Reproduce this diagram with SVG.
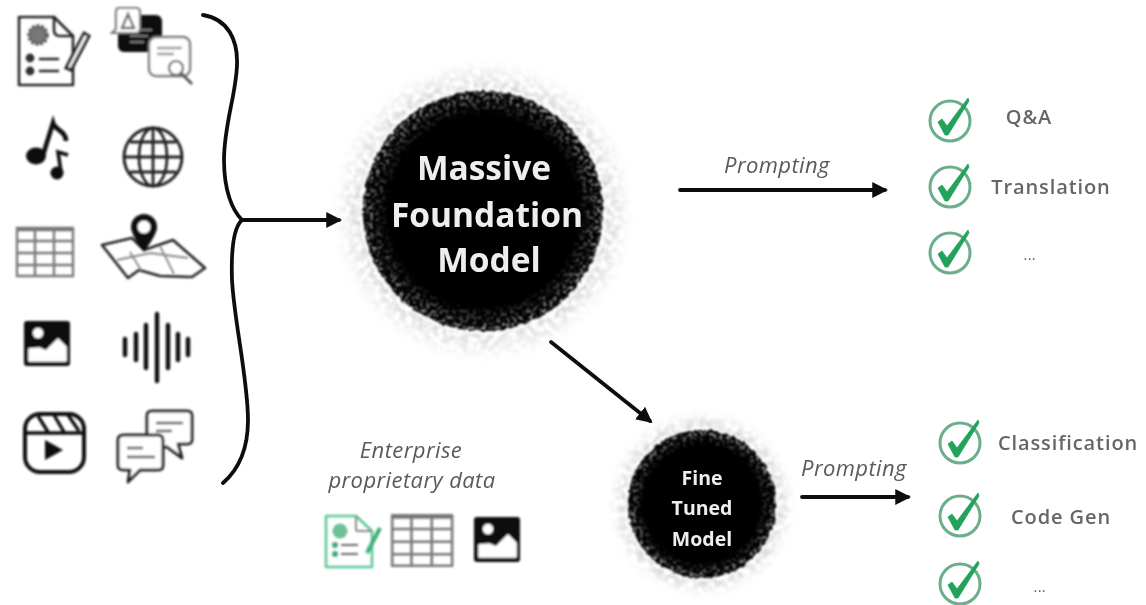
<svg xmlns="http://www.w3.org/2000/svg" width="1146" height="605" viewBox="0 0 1146 605">
<style>
text{font-family:"Open Sans","Liberation Sans",sans-serif}
.lab{fill:#666;font-size:20px;letter-spacing:.9px;text-anchor:middle;font-weight:600}
.w{fill:#eee;font-weight:700;text-anchor:middle}
.pr{fill:#5a5a5a;font-size:22px;letter-spacing:.4px;font-style:italic;text-anchor:middle}
.thin{fill:none;stroke:#222;stroke-width:2.6;stroke-linejoin:round;stroke-linecap:round}
.grid{fill:none;stroke:#777;stroke-width:2.4}
.conn{fill:none;stroke:#111;stroke-width:3.8;stroke-linecap:round}
</style>
<defs>
<filter id="b" x="-10%" y="-10%" width="120%" height="120%"><feGaussianBlur stdDeviation="0.8"/></filter>
<filter id="bt" x="-10%" y="-30%" width="120%" height="160%"><feGaussianBlur stdDeviation="0.7"/></filter>
<filter id="mottle" x="-5%" y="-5%" width="110%" height="110%">
<feTurbulence type="fractalNoise" baseFrequency="0.16" numOctaves="3" seed="7" result="n"/>
<feColorMatrix in="n" type="matrix" values="0 0 0 0 0 0 0 0 0 0 0 0 0 0 0 3.2 0 0 0 -1.1" result="m"/>
<feComposite in="SourceGraphic" in2="m" operator="in"/>
<feGaussianBlur stdDeviation="1.3"/>
</filter>
<filter id="rough" x="-5%" y="-5%" width="110%" height="110%">
<feTurbulence type="fractalNoise" baseFrequency="0.22" numOctaves="2" seed="3" result="n"/>
<feDisplacementMap in="SourceGraphic" in2="n" scale="5" xChannelSelector="R" yChannelSelector="G"/>
<feGaussianBlur stdDeviation="0.8"/>
</filter>
<filter id="rimf" x="-5%" y="-5%" width="110%" height="110%">
<feTurbulence type="fractalNoise" baseFrequency="0.3" numOctaves="2" seed="11" result="n"/>
<feColorMatrix in="n" type="matrix" values="0 0 0 0 0 0 0 0 0 0 0 0 0 0 0 7 0 0 0 -3.6" result="m"/>
<feComposite in="SourceGraphic" in2="m" operator="in"/>
<feGaussianBlur stdDeviation="0.8"/>
</filter>
<radialGradient id="halo"><stop offset="0.75" stop-color="#888" stop-opacity="0.5"/><stop offset="0.86" stop-color="#999" stop-opacity="0.3"/><stop offset="1" stop-color="#bbb" stop-opacity="0"/></radialGradient>
<radialGradient id="rim"><stop offset="0.8" stop-color="#fff" stop-opacity="0"/><stop offset="0.92" stop-color="#ddd" stop-opacity="0.45"/><stop offset="1" stop-color="#eee" stop-opacity="0.75"/></radialGradient>
<marker id="ah" viewBox="0 0 10 10" refX="8" refY="5" markerWidth="4.2" markerHeight="4.2" orient="auto"><path d="M0 0L10 5L0 10z" fill="#111"/></marker>
<g id="check" filter="url(#bt)">
<circle cx="22" cy="24" r="20" fill="none" stroke="#6aae8c" stroke-width="3"/>
<path d="M10 25L14 22L19 29L40 1L41 4L20 38L17 38z" fill="#22a25a" stroke="#22a25a" stroke-width="0.8" stroke-linejoin="round"/>
</g>
<g id="doc">
<path class="thin" d="M19 17H54L73 36V85H19z"/>
<path class="thin" d="M54 17V30Q54 36 60 36H73"/>
<circle cx="38" cy="35" r="9" fill="#777" stroke="#555" stroke-width="3.4" stroke-dasharray="3 1.5"/>
<circle cx="30" cy="58" r="4.4" fill="#333"/><circle cx="30" cy="71" r="4.4" fill="#333"/>
<path class="thin" d="M40 59H58M40 71H58" stroke-width="3"/>
<path d="M66 68L84 33L89 36L71 70z" fill="#fff" stroke="#222" stroke-width="3"/>
</g>
<g id="table">
<path d="M16 229H74" stroke="#777" stroke-width="4.5"/>
<path class="grid" d="M17 229H73V276H17zM17 241H73M17 253H73M17 265H73M35 229V276M54 229V276"/>
</g>
<g id="pic">
<rect x="24" y="321" width="46" height="45" rx="3" fill="#0a0a0a"/>
<circle cx="38" cy="333" r="5.2" fill="#fff"/>
<path d="M29 361V349L39 348L46 351L58 339L66 347V361z" fill="#fff" stroke="#fff" stroke-linejoin="round" stroke-width="1.5"/>
</g>
</defs>
<rect width="1146" height="605" fill="#fff"/>

<g id="source-icons" filter="url(#b)">
<g id="icon-doc"><use href="#doc"/></g>
<g id="icon-bubbles">
<rect x="118" y="15" width="44" height="37" rx="6" fill="#0c0c0c"/>
<path d="M130 30H152M130 36H148M130 42H144" stroke="#777" stroke-width="2"/>
<path d="M119 8H136Q140 8 140 12V29Q140 33 136 33H112L116 29V12Q116 8 119 8z" fill="#fff" stroke="#777" stroke-width="2.2"/>
<path d="M122 28L128 14L134 28z" fill="none" stroke="#666" stroke-width="2.4"/>
<rect x="149" y="37" width="41" height="39" rx="7" fill="#fff" stroke="#777" stroke-width="2.4"/>
<path d="M157 48H182M157 54H174" stroke="#999" stroke-width="2.4"/>
<circle cx="176" cy="68" r="7" fill="#fff" stroke="#666" stroke-width="2.2"/>
<path d="M181 73L192 84" stroke="#555" stroke-width="2.8"/>
</g>
<g id="icon-music">
<ellipse cx="36" cy="156" rx="10" ry="8.5" fill="#0c0c0c"/>
<path d="M43 155L53 123C55 130 66 131 66 141" fill="none" stroke="#0c0c0c" stroke-width="4.6"/>
<circle cx="57" cy="173" r="6.5" fill="#0c0c0c"/>
<path d="M61 172L58 152L68 155" fill="none" stroke="#0c0c0c" stroke-width="3.6"/>
</g>
<g id="icon-globe">
<circle cx="153" cy="157" r="29" fill="none" stroke="#222" stroke-width="3"/>
<ellipse cx="153" cy="157" rx="14" ry="29" fill="none" stroke="#222" stroke-width="2.8"/>
<path d="M153 128V186M125 157H182M130 142H176M130 172H176" fill="none" stroke="#222" stroke-width="2.8"/>
</g>
<g id="icon-table"><use href="#table"/></g>
<g id="icon-map">
<path class="thin" d="M102 245L132 238L144 250L173 240L205 268L192 277L160 276L139 270L128 278z" fill="#fff" stroke="#555"/>
<path d="M117 260L150 253L188 258M130 252L141 270M160 246L174 274" fill="none" stroke="#888" stroke-width="1.8"/>
<path d="M144 252C134 238 131 231 131 227A13 13 0 0 1 157 227C157 231 154 238 144 252z" fill="#0a0a0a"/>
<circle cx="144" cy="227" r="6.5" fill="#fff"/>
</g>
<g id="icon-image"><use href="#pic"/></g>
<g id="icon-wave" fill="none" stroke="#111" stroke-linecap="round">
<path stroke-width="4.4" d="M125 339V355M136 334V360M146 325V368M157 314V381M168 325V368M178 334V360M188 339V355"/>
</g>
<g id="icon-video">
<rect x="25" y="414" width="59" height="58" rx="15" fill="none" stroke="#111" stroke-width="4"/>
<path d="M25 433H84M38 416L48 432M54 415L64 432M68 415L79 431" fill="none" stroke="#111" stroke-width="3.4"/>
<path d="M45 440L63 450L45 460z" fill="#111"/>
</g>
<g id="icon-chat" fill="none" stroke="#222" stroke-width="3" stroke-linejoin="round">
<path d="M152 411H187Q192 411 192 416V439Q192 444 187 444H178L182 458L167 447H152Q147 447 147 442V416Q147 411 152 411z" fill="#fff"/>
<path d="M124 435H158Q163 435 163 440V465Q163 470 158 470H140L128 482L130 470H124Q118 470 118 465V440Q118 435 124 435z" fill="#fff"/>
<path d="M156 423H183M156 431H172M127 448H143M127 457H155" stroke="#555" stroke-width="2.6"/>
</g>
</g>

<g id="connectors" filter="url(#bt)">
<path class="conn" d="M203 15C228 19 238 40 237 65C236 95 224 125 224 160C224 190 232 210 242 220C233 228 231 250 232 280C234 320 248 380 248 420C248 450 238 470 223 483"/>
<path class="conn" d="M242 220H339" marker-end="url(#ah)"/>
<path class="conn" d="M680 190H885" marker-end="url(#ah)"/>
<path class="conn" d="M551 342L650 421" marker-end="url(#ah)"/>
<path class="conn" d="M802 497H908" marker-end="url(#ah)"/>
</g>

<g id="node-massive">
<circle cx="483" cy="211" r="152" fill="url(#halo)" filter="url(#mottle)"/>
<circle cx="483" cy="211" r="124" fill="#fff" opacity="0.7" filter="url(#b)"/>
<circle cx="483" cy="211" r="120" fill="#050505" filter="url(#rough)"/>
<circle cx="483" cy="211" r="119" fill="url(#rim)" filter="url(#rimf)"/>
<g filter="url(#bt)">
<text class="w" x="484" y="180" font-size="33.5">Massive</text>
<text class="w" x="487" y="227" font-size="33.5">Foundation</text>
<text class="w" x="489" y="272" font-size="33.5">Model</text>
</g>
</g>

<g id="node-fine">
<circle cx="702" cy="504" r="95" fill="url(#halo)" filter="url(#mottle)"/>
<circle cx="702" cy="504" r="77" fill="#fff" opacity="0.7" filter="url(#b)"/>
<circle cx="702" cy="504" r="74" fill="#050505" filter="url(#rough)"/>
<circle cx="702" cy="504" r="73" fill="url(#rim)" filter="url(#rimf)"/>
<g filter="url(#bt)">
<text class="w" x="702" y="485" font-size="19.5">Fine</text>
<text class="w" x="702" y="515" font-size="19.5">Tuned</text>
<text class="w" x="702" y="546" font-size="19.5">Model</text>
</g>
</g>

<g id="labels" filter="url(#bt)">
<text class="pr" x="777" y="173">Prompting</text>
<text class="pr" x="854" y="476">Prompting</text>
<text class="pr" x="411" y="458">Enterprise</text>
<text class="pr" x="412" y="488">proprietary data</text>
</g>

<g id="enterprise-icons" filter="url(#b)">
<g id="ent-doc">
<path d="M326 516H356L372 531V567H326z" fill="none" stroke="#5cc896" stroke-width="2.6" stroke-linejoin="round"/>
<path d="M356 516V529Q356 531 358 531H372" fill="none" stroke="#888" stroke-width="2"/>
<circle cx="340" cy="531" r="7.5" fill="#6fbf96"/>
<circle cx="335" cy="545" r="3" fill="#4a7"/><circle cx="335" cy="554" r="3" fill="#4a7"/>
<path d="M341 545H358M341 554H358" stroke="#666" stroke-width="2"/>
<path d="M367 553L380 528" stroke="#3faf78" stroke-width="4"/>
</g>
<g id="ent-table"><use href="#table" transform="translate(374,276) scale(1.07,1.05)"/></g>
<g id="ent-image"><use href="#pic" transform="translate(450,196)"/></g>
</g>

<g id="outcomes">
<g id="out-qa"><use href="#check" x="928" y="97"/><text class="lab" x="1029" y="124" filter="url(#bt)">Q&amp;A</text></g>
<g id="out-translation"><use href="#check" x="928" y="163"/><text class="lab" x="1051" y="194" filter="url(#bt)">Translation</text></g>
<g id="out-more1"><use href="#check" x="928" y="229"/><text class="lab" x="1030" y="260" style="font-size:12px" filter="url(#bt)">...</text></g>
<g id="out-class"><use href="#check" x="938" y="419"/><text class="lab" x="1068" y="450" filter="url(#bt)">Classification</text></g>
<g id="out-code"><use href="#check" x="938" y="492"/><text class="lab" x="1061" y="524" filter="url(#bt)">Code Gen</text></g>
<g id="out-more2"><use href="#check" x="938" y="560"/><text class="lab" x="1040" y="592" style="font-size:12px" filter="url(#bt)">...</text></g>
</g>
</svg>
